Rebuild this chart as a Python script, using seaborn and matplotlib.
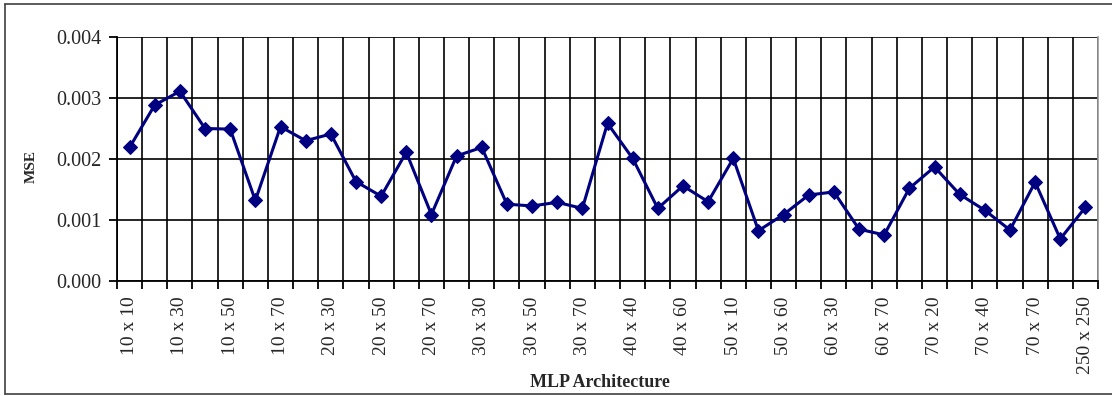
import numpy as np
import pandas as pd
import matplotlib
matplotlib.use("Agg")
import matplotlib.pyplot as plt
from matplotlib.lines import Line2D
import seaborn as sns

# MSE per MLP architecture (39 networks, every other one labelled)
mse = [2.19, 2.885, 3.11, 2.50, 2.49, 1.32, 2.53, 2.30, 2.41, 1.63,
       1.39, 2.11, 1.09, 2.05, 2.19, 1.26, 1.23, 1.29, 1.19, 2.585,
       2.01, 1.19, 1.56, 1.30, 2.01, 0.825, 1.09, 1.41, 1.46, 0.85,
       0.755, 1.52, 1.87, 1.42, 1.16, 0.836, 1.62, 0.69, 1.21]
mse = [v / 1000 for v in mse]

tick_labels = ["10 x 10", "10 x 30", "10 x 50", "10 x 70", "20 x 30",
               "20 x 50", "20 x 70", "30 x 30", "30 x 50", "30 x 70",
               "40 x 40", "40 x 60", "50 x 10", "50 x 60", "60 x 30",
               "60 x 70", "70 x 20", "70 x 40", "70 x 70", "250 x 250"]

y_ticks = [0.000, 0.001, 0.002, 0.003, 0.004]

df = pd.DataFrame({"pos": np.arange(len(mse)), "mse": mse})

sns.set_style("white")
plt.rcParams["font.family"] = ["Liberation Serif", "DejaVu Serif"]

fig = plt.figure(figsize=(11.12, 3.96), dpi=100)
fig.patch.set_facecolor("white")
ax = fig.add_axes([117 / 1112, 1 - 281 / 396, 981 / 1112, 244 / 396])

sns.lineplot(data=df, x="pos", y="mse", ax=ax, color="#000080",
             linewidth=2.2, marker="D", markersize=7.5,
             markeredgecolor="#000080", markerfacecolor="#000080")

n = len(mse)
ax.set_xlim(-0.5, n - 0.5)
ax.set_ylim(0, 0.004)

# category boundaries: minor ticks + vertical grid
ax.set_xticks(np.arange(-0.5, n, 1.0), minor=True)
ax.set_xticks(np.arange(0, n, 2))
ax.set_xticklabels(tick_labels, rotation=90, fontsize=14)
ax.tick_params(axis="x", which="major", length=0, pad=11)
ax.tick_params(axis="x", which="minor", length=6, width=1.3, color="black",
               bottom=True)
ax.grid(True, axis="x", which="minor", color="black", linewidth=1.2)

ax.set_yticks(y_ticks)
ax.set_yticklabels([f"{v:.3f}" for v in y_ticks], fontsize=14.5)
ax.tick_params(axis="y", length=6, width=1.3, color="black", left=True, pad=5)
ax.grid(True, axis="y", which="major", color="black", linewidth=1.2)
ax.set_axisbelow(True)

for side in ["left", "bottom"]:
    ax.spines[side].set_color("black")
    ax.spines[side].set_linewidth(1.3)
ax.spines["top"].set_visible(False)
ax.spines["right"].set_color("#9a9a9a")
ax.spines["right"].set_linewidth(1.2)

ax.set_xlabel("MLP Architecture", fontsize=13, fontweight="bold")
ax.set_ylabel("MSE", fontsize=11, fontweight="bold")
ax.xaxis.set_label_coords(0.492, -0.381)
ax.yaxis.set_label_coords(-0.0805, 0.47)

# outer frame of the chart
for xs, ys in [([5 / 1112, 5 / 1112], [1 - 4 / 396, 1 - 394 / 396]),
               ([5 / 1112, 1.0], [1 - 4 / 396, 1 - 4 / 396]),
               ([5 / 1112, 1.0], [1 - 394 / 396, 1 - 394 / 396])]:
    fig.add_artist(Line2D(xs, ys, transform=fig.transFigure,
                          color="#404040", linewidth=1.2))

fig.savefig("out.png", dpi=100)
